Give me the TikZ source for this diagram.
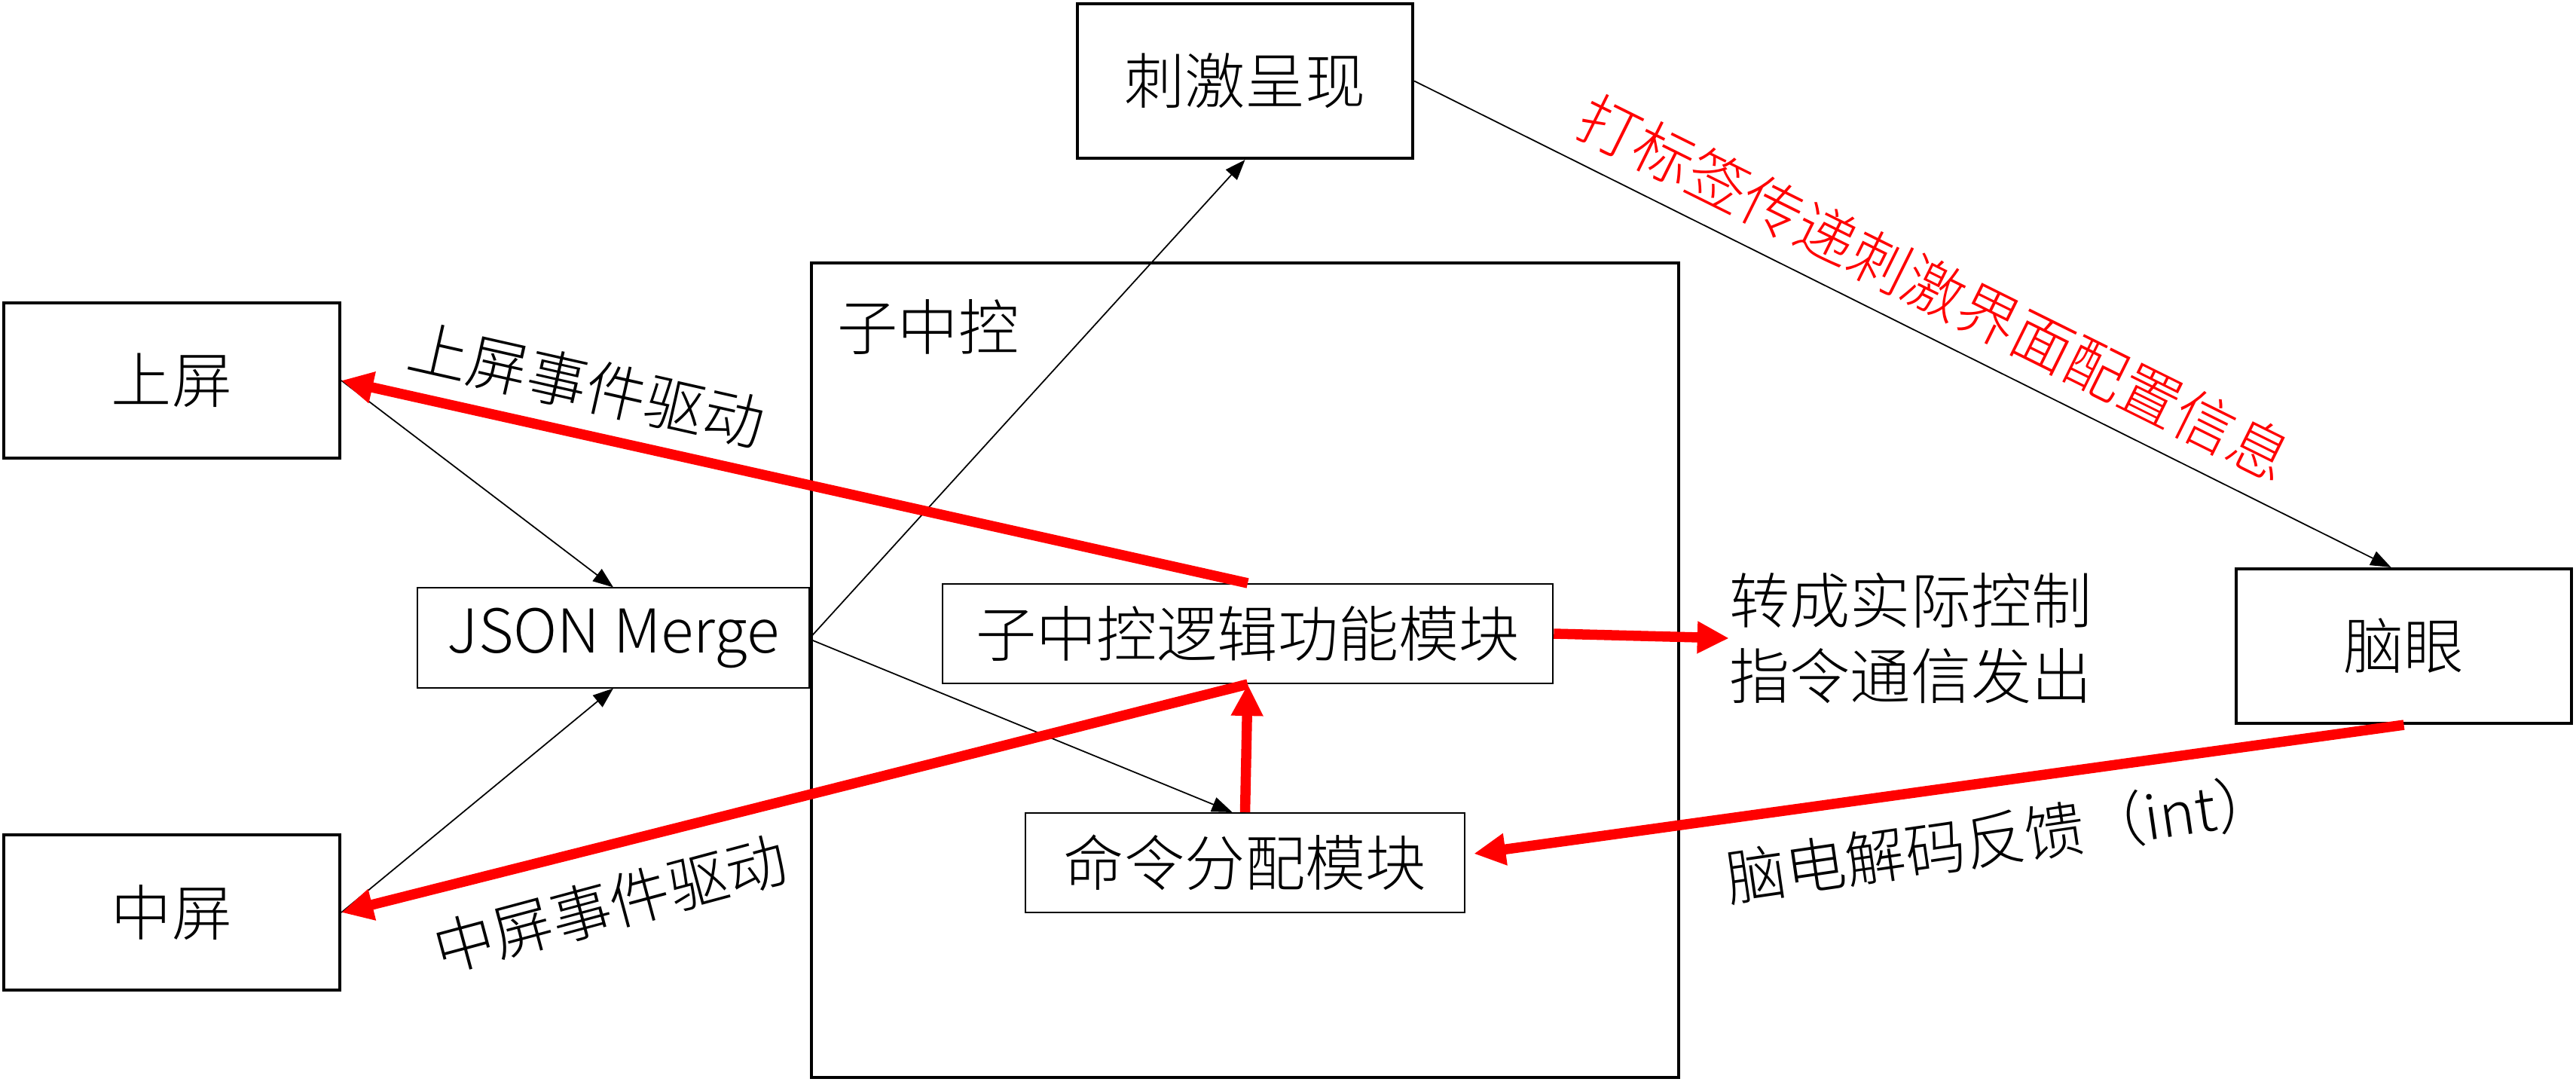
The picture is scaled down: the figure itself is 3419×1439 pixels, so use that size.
\documentclass[tikz,border=0pt]{standalone}
\usepackage{fontspec}
\setmainfont{Noto Sans CJK SC}[UprightFont=* Light]
\usetikzlibrary{arrows.meta,calc}
\begin{document}
\begin{tikzpicture}[x=0.01cm,y=-0.01cm,
  every node/.style={font=\fontsize{22.8pt}{28.45pt}\selectfont},
  outerbox/.style={draw,line width=1.14pt,fill=white,inner sep=0pt,minimum width=4.46cm,minimum height=2.06cm},
  innerbox/.style={draw,line width=0.57pt,fill=white,inner sep=0pt,minimum height=1.32cm},
  thinarrow/.style={line width=0.5pt,-{Triangle[length=0.27cm,width=0.2cm]}},
  redarrow/.style={red,line width=0.135cm,-{Triangle[length=0.42cm,width=0.40cm]}},
  lbl/.style={inner sep=0pt}
]
\useasboundingbox (0,0) rectangle (3419,1439);
\fill[white] (0,0) rectangle (3419,1439);

% nodes
\node[draw,line width=1.14pt,minimum width=11.51cm,minimum height=10.81cm,inner sep=0pt] (sub) at (1652.5,889.5) {};
\node[lbl] (subl) at (1232,434) {子中控};
\node[outerbox] (up) at (228,505) {上屏};
\node[outerbox] (mid) at (228,1211) {中屏};
\node[outerbox,minimum width=4.45cm,minimum height=2.05cm] (stim) at (1652.5,107.5) {刺激呈现};
\node[outerbox,minimum width=4.45cm,minimum height=2.05cm] (eye) at (3190.5,857.5) {脑眼};
\node[innerbox,minimum width=5.20cm] (json) at (814,846.5) {JSON Merge};
\node[innerbox,minimum width=8.10cm] (logic) at (1656,841) {子中控逻辑功能模块};
\node[innerbox,minimum width=5.83cm] (cmd) at (1652.5,1145) {命令分配模块};
\node[lbl,align=left] (out) at (2536,847) {转成实际控制\\指令通信发出};

% labels
\node[lbl,rotate=-12.7] (l1) at (779,511) {上屏事件驱动};
\node[lbl,rotate=15] (l2) at (810,1200) {中屏事件驱动};
\node[lbl,rotate=-26.4,text=red] (l3) at (2568,382) {打标签传递刺激界面配置信息};
\node[lbl,rotate=8.3,anchor=west] (l4) at (2290,1166) {脑电解码反馈（int）};

% thin connectors
\draw[thinarrow] (up.east) -- (json.north);
\draw[thinarrow] (mid.east) -- (json.south);
\draw[thinarrow] (json.east) -- (stim.south);
\draw[thinarrow] ($(json.east)+(0,2)$) -- ($(cmd.north)+(-17,0)$);
\draw[thinarrow] (stim.east) -- ($(eye.north)+(-17,0)$);

% red connectors
\draw[redarrow] (logic.north) -- (up.east);
\draw[redarrow] (logic.south) -- (mid.east);
\draw[redarrow] (cmd.north) -- (logic.south);
\draw[redarrow] (logic.east) -- (out.west);
\draw[redarrow] (eye.south) -- ($(cmd.east)+(11,-12)$);
\end{tikzpicture}
\end{document}
